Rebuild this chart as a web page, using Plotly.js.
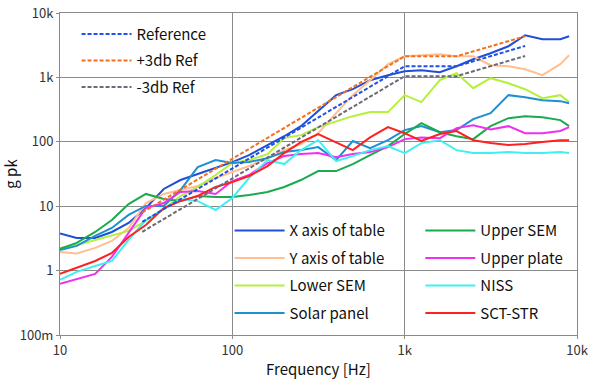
<!DOCTYPE html>
<html>
<head>
<meta charset="utf-8">
<script src="https://cdn.plot.ly/plotly-3.0.1.min.js"></script>
<style>html,body{margin:0;padding:0;background:#fff;}#chart{width:589px;height:379px;}</style>
</head>
<body>
<div id="chart"></div>
<script>
// Frequency grid (Hz)
const freq = [10,12.5,16,20,25,31.5,40,50,63,80,100,125,160,200,250,315,400,500,630,800,1000,1250,1600,2000,2500,3150,4000,5000,6300,8000,9000];

// Measured responses (g pk)
const xAxisTable = [3.78,3.21,3.21,3.98,5.49,9.38,18.5,25.5,31.6,39.1,48.4,62.2,88.9,122,175,299,530,656,905,1081,1248,1294,1204,1492,1914,2373,3046,4511,3909,3909,4353];
const yAxisTable = [1.95,1.85,2.25,2.89,4.59,11.2,15.5,17.8,20.6,27.4,33.9,42.0,55.8,74.3,92.1,136,279,530,905,1603,2131,2208,2290,2131,2131,1546,1492,1340,1081,1603,2208];
const lowerSEM   = [2.25,2.50,2.99,3.55,4.13,5.90,9.06,14.4,19.9,30.5,46.8,52.0,64.4,114,127,169,209,250,289,289,530,413,905,1161,680,972,813,656,476,530,413];
const solarPanel = [2.09,2.42,3.45,4.59,7.31,10.1,10.1,17.8,40.5,52.0,46.8,48.4,55.8,69.2,74.3,82.8,52.0,103,79.9,106,152,175,141,152,225,279,530,493,443,428,398];
const upperSEM   = [2.17,2.69,3.98,6.11,10.8,15.5,12.9,12.0,14.4,13.9,13.9,14.9,16.6,19.9,25.5,35.1,35.1,45.1,62.2,85.7,132,195,141,122,110,175,233,250,241,217,175];
const upperPlate = [0.622,0.743,0.889,1.63,3.84,9.38,11.2,16.6,17.2,15.5,24.6,30.5,46.8,60.0,64.4,66.8,57.5,64.4,69.2,82.8,110,117,114,163,181,156,175,136,136,147,169];
const niss       = [0.718,0.955,1.18,1.41,2.99,6.11,9.06,12.9,12.0,8.73,13.4,27.4,52.0,45.1,74.3,106,50.2,60.0,74.3,85.7,66.8,95.5,106,74.3,66.8,66.8,69.2,66.8,66.8,69.2,66.8];
const sctStr     = [0.889,1.10,1.41,1.88,3.33,5.11,9.38,12.0,14.4,19.9,23.7,29.4,42.0,66.8,98.9,132,98.9,74.3,117,169,136,103,132,147,106,95.5,88.9,92.1,98.9,106,106];

// Reference profile
const refFreq  = [30,1000,2000,5000];
const reference = [5.7,1490,1490,3080];
const plus3db   = [8.0,2130,2130,4350];
const minus3db  = [4.0,1045,1045,2150];

// Tick labels
const xTickVals = [10,100,1000,10000];
const xTickText = ['10','100','1k','10k'];
const yTickVals = [0.1,1,10,100,1000,10000];
const yTickText = ['100m','1','10','100','1k','10k'];

const solid = (name, y, color, legend, grp) => ({
  x: freq, y: y, name: name, type: 'scatter', mode: 'lines',
  line: {color: color, width: 2}, legend: legend, legendgroup: grp
});
const dashed = (name, y, color, grp) => ({
  x: refFreq, y: y, name: name, type: 'scatter', mode: 'lines',
  line: {color: color, width: 2, dash: '4px,2px'}, legend: 'legend', legendgroup: grp
});

const data = [
  solid('X axis of table', xAxisTable, '#1f4fd6', 'legend2', 'a1'),
  solid('Y axis of table', yAxisTable, '#ffbf90', 'legend2', 'a2'),
  solid('Lower SEM', lowerSEM, '#b4f03c', 'legend2', 'a3'),
  solid('Solar panel', solarPanel, '#1e8fd0', 'legend2', 'a4'),
  solid('Upper SEM', upperSEM, '#1aaa50', 'legend3', 'b1'),
  solid('Upper plate', upperPlate, '#f030f0', 'legend3', 'b2'),
  solid('NISS', niss, '#40f0f0', 'legend3', 'b3'),
  solid('SCT-STR', sctStr, '#ff2020', 'legend3', 'b4'),
  dashed('Reference', reference, '#2050e8', 'r1'),
  dashed('+3db Ref', plus3db, '#f07020', 'r2'),
  dashed('-3db Ref', minus3db, '#6a6a78', 'r3')
];

const font = "'Noto Sans CJK KR', 'Noto Sans', sans-serif";
const legendBase = {
  bgcolor: 'rgba(0,0,0,0)', borderwidth: 0,
  font: {family: font, size: 15, color: '#111'},
  itemwidth: 50, tracegroupgap: 5, traceorder: 'grouped',
  xanchor: 'left', yanchor: 'top'
};

const layout = {
  width: 589, height: 379,
  margin: {l: 60, r: 12, t: 13, b: 44},
  paper_bgcolor: '#fff', plot_bgcolor: '#fff',
  font: {family: font, size: 13, color: '#333'},
  xaxis: {
    type: 'log', range: [1, 4],
    tickvals: xTickVals, ticktext: xTickText,
    showgrid: true, gridcolor: '#8a8a8a', gridwidth: 1,
    showline: true, linecolor: '#8a8a8a', linewidth: 1, mirror: true,
    ticks: 'outside', ticklen: 3, tickcolor: '#8a8a8a',
    tickfont: {size: 13, color: '#333'},
    zeroline: false,
    title: {text: 'Frequency [Hz]', font: {size: 15, color: '#111'}, standoff: 6}
  },
  yaxis: {
    type: 'log', range: [-1, 4],
    tickvals: yTickVals, ticktext: yTickText,
    showgrid: true, gridcolor: '#8a8a8a', gridwidth: 1,
    showline: true, linecolor: '#8a8a8a', linewidth: 1, mirror: true,
    ticks: 'outside', ticklen: 3, tickcolor: '#8a8a8a',
    tickfont: {size: 13, color: '#333'},
    zeroline: false,
    title: {text: 'g pk', font: {size: 15, color: '#111'}, standoff: 4}
  },
  legend: Object.assign({}, legendBase, {x: 0.032, y: 0.985, tracegroupgap: 4}),
  legend2: Object.assign({}, legendBase, {x: 0.328, y: 0.375}),
  legend3: Object.assign({}, legendBase, {x: 0.697, y: 0.375}),
  showlegend: true
};

Plotly.newPlot('chart', data, layout, {staticPlot: true, displayModeBar: false});
</script>
</body>
</html>
